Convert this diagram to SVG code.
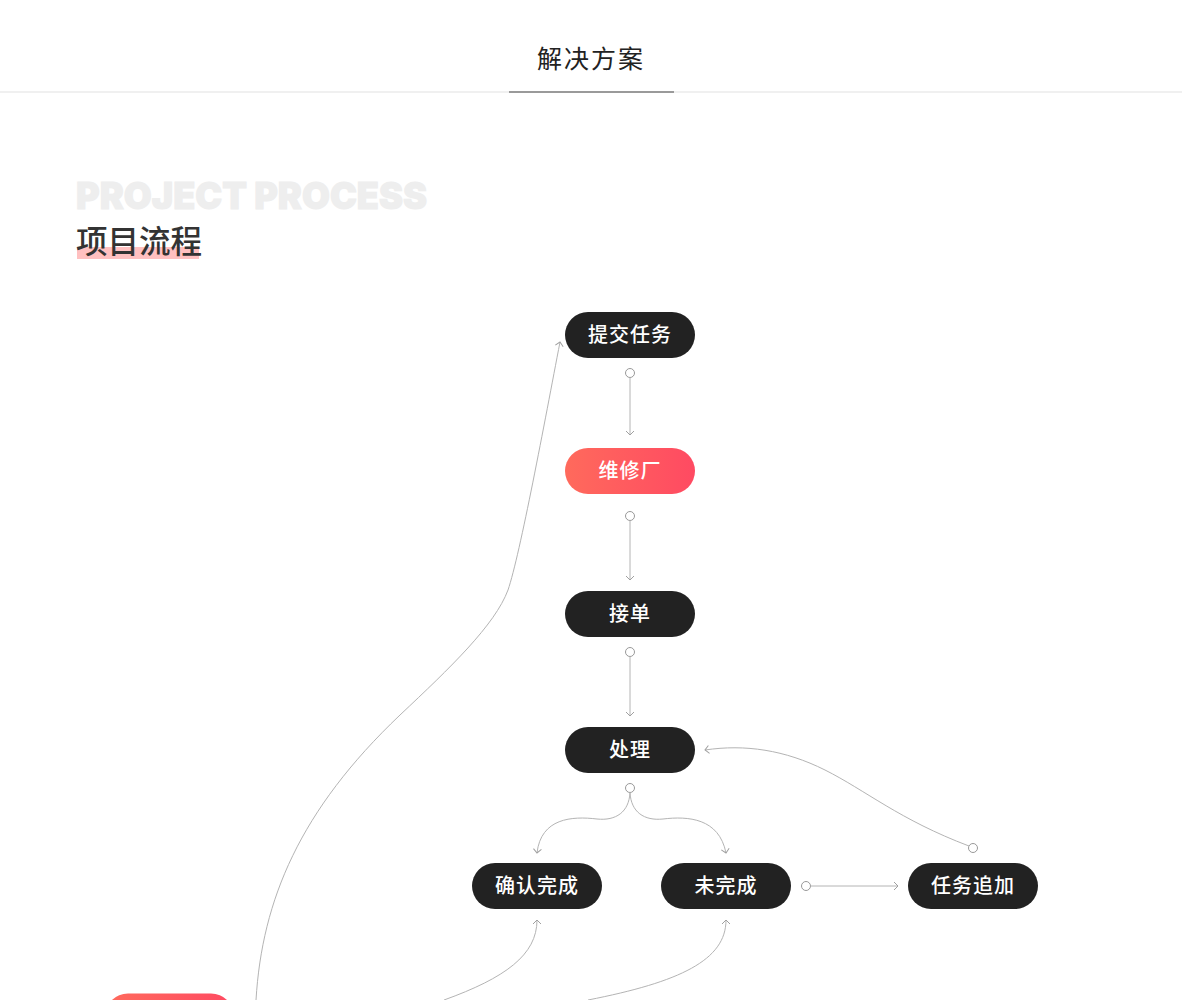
<svg xmlns="http://www.w3.org/2000/svg" width="1182" height="1000" viewBox="0 0 1182 1000">
<defs>
<linearGradient id="red" x1="0" y1="0" x2="1" y2="0">
<stop offset="0" stop-color="#ff6a5c"/>
<stop offset="1" stop-color="#ff4a62"/>
</linearGradient>
<marker id="arr" viewBox="0 0 10 10" refX="9" refY="5" markerWidth="10" markerHeight="10" markerUnits="userSpaceOnUse" orient="auto">
<path d="M5,1 L9,5 L5,9" fill="none" stroke="#a0a0a0" stroke-width="1"/>
</marker>
</defs>
<style>
.dark{fill:#222222}
.red{fill:url(#red)}
.lbl{font-family:"Noto Sans CJK SC","Noto Sans",sans-serif;font-size:20px;font-weight:500;fill:#ffffff;text-anchor:middle;letter-spacing:1px}
.c{fill:none;stroke:#b4b4b4;stroke-width:1}
.dot{fill:#ffffff;stroke:#999999;stroke-width:1}
</style>
<rect width="1182" height="1000" fill="#ffffff"/>
<g id="header">
<text x="591" y="68" font-family="Noto Sans CJK SC, sans-serif" font-size="25" fill="#222" text-anchor="middle" letter-spacing="2">解决方案</text>
<rect x="0" y="91.5" width="1182" height="1" fill="#e2e2e2"/>
<rect x="509" y="91" width="165" height="2" fill="#9a9a9a"/>
</g>
<g id="section-title">
<text x="76" y="209" font-family="Inter, Roboto, Liberation Sans, sans-serif" font-weight="900" font-size="37" fill="#eeeeee" stroke="#eeeeee" stroke-width="1" textLength="351" lengthAdjust="spacingAndGlyphs">PROJECT PROCESS</text>
<rect x="77" y="247" width="122" height="12" fill="#ffc0c0"/>
<text x="76" y="253" font-family="Noto Sans CJK SC, sans-serif" font-size="31.5" font-weight="500" fill="#333333">项目流程</text>
</g>
<g id="connectors">
<circle class="dot" cx="630" cy="373" r="4.5"/>
<path class="c" d="M630,377.5 L630,435" marker-end="url(#arr)"/>
<circle class="dot" cx="630" cy="516" r="4.5"/>
<path class="c" d="M630,520.5 L630,580" marker-end="url(#arr)"/>
<circle class="dot" cx="630" cy="652" r="4.5"/>
<path class="c" d="M630,656.5 L630,716" marker-end="url(#arr)"/>
<circle class="dot" cx="630" cy="788" r="4.5"/>
<path class="c" d="M630,792.5 C629,812 616,821 597,819 C572,816 541,818 537,853" marker-end="url(#arr)"/>
<path class="c" d="M630,792.5 C631,812 644,821 663,819 C688,816 719,818 726,853" marker-end="url(#arr)"/>
<circle class="dot" cx="806" cy="886" r="4.5"/>
<path class="c" d="M810.5,886 L898,886" marker-end="url(#arr)"/>
<circle class="dot" cx="973" cy="848" r="4.5"/>
<path class="c" d="M969,846 C900,820 865,790 825,770 C785,750 745,744 705,750" marker-end="url(#arr)"/>
<path class="c" d="M444,1000 C505,978 537,955 537,920" marker-end="url(#arr)"/>
<path class="c" d="M588,1000 C680,982 726,960 726,920" marker-end="url(#arr)"/>
<path class="c" d="M256,1000 C262,900 300,810 400,715 C450,668 495,625 508,590 C520,555 545,420 560,342" marker-end="url(#arr)"/>
</g>
<g id="n-submit"><rect class="dark" x="565" y="312" width="130" height="46" rx="23"/><text class="lbl" x="630" y="342">提交任务</text></g>
<g id="n-factory"><rect class="red" x="565" y="448" width="130" height="46" rx="23"/><text class="lbl" x="630" y="478">维修厂</text></g>
<g id="n-accept"><rect class="dark" x="565" y="591" width="130" height="46" rx="23"/><text class="lbl" x="630" y="621">接单</text></g>
<g id="n-process"><rect class="dark" x="565" y="727" width="130" height="46" rx="23"/><text class="lbl" x="630" y="757">处理</text></g>
<g id="n-confirm"><rect class="dark" x="472" y="863" width="130" height="46" rx="23"/><text class="lbl" x="537" y="893">确认完成</text></g>
<g id="n-unfinished"><rect class="dark" x="661" y="863" width="130" height="46" rx="23"/><text class="lbl" x="726" y="893">未完成</text></g>
<g id="n-append"><rect class="dark" x="908" y="863" width="130" height="46" rx="23"/><text class="lbl" x="973" y="893">任务追加</text></g>
<g id="n-bottom"><rect class="red" x="105" y="993.5" width="129" height="46" rx="23"/></g>
</svg>
